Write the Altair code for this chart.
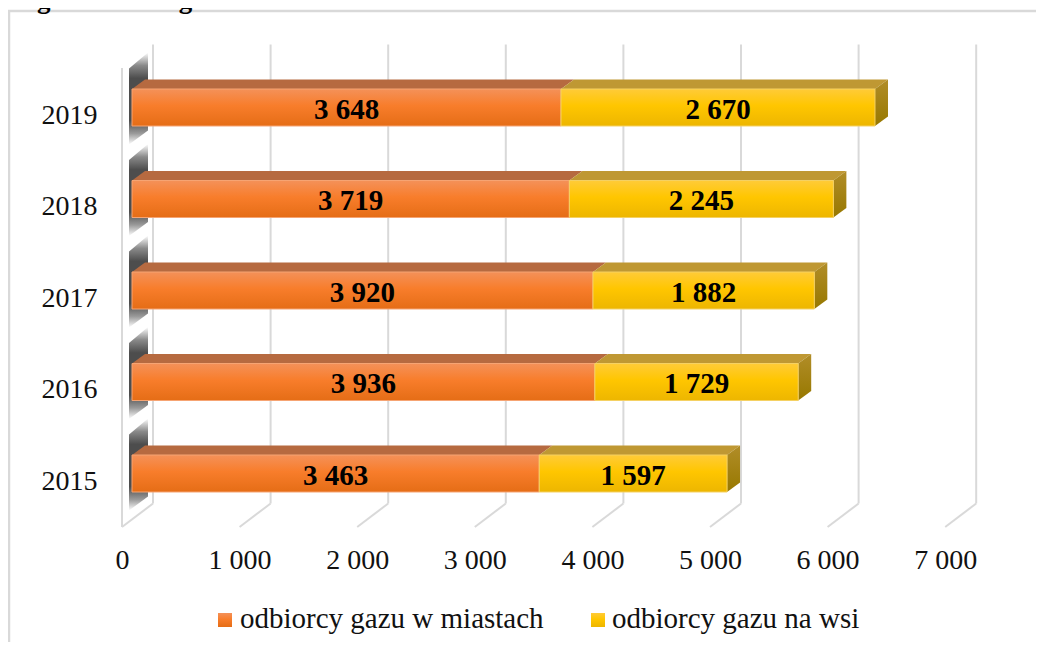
import altair as alt
import pandas as pd

years = [2015, 2016, 2017, 2018, 2019]
miasta = [3463, 3936, 3920, 3719, 3648]
wies = [1597, 1729, 1882, 2245, 2670]
x_ticks = [0, 1000, 2000, 3000, 4000, 5000, 6000, 7000]
legend_labels = ["odbiorcy gazu w miastach", "odbiorcy gazu na wsi"]
title_text = "r z gazu ziemnego w latach 2015-2019"

FONT = "Liberation Serif"
PX_X = 0.1176   # px per value
PX_Y = 91.5     # px per row
ux = lambda px: px / PX_X
uy = lambda px: px / PX_Y

GRID = "#d9d9d9"
WALL_DX, WALL_DY = ux(31), uy(23.5)
WALL_TOP, FLOOR = uy(481 - 68), uy(481 - 527)
BAR_X0, BAR_Y0 = ux(10), uy(7.5)
BAR_DX, BAR_DY = ux(13), uy(9.5)
BAR_H = uy(18.5)


def grad(stops):
    n = [{"offset": o, "color": c} for o, c in stops]
    return {"gradient": "linear", "stops": n, "x1": 0, "x2": 0, "y1": 0, "y2": 1}


ORANGE = grad([(0, "#F49159"), (0.45, "#F87D2B"), (1, "#E56D16")])
YELLOW = grad([(0, "#FFCB38"), (0.45, "#FFC600"), (1, "#EDB600")])
SIDE = grad([(0, "#B18D28"), (1, "#977800")])
SHADOW = grad([(0, "#ffffff"), (0.14, "#8a8a8a"), (0.28, "#4d4d4d"),
               (0.74, "#4d4d4d"), (0.88, "#9a9a9a"), (1, "#ffffff")])

axis_x = alt.Axis(values=x_ticks, labelExpr="replace(format(datum.value, ','), ',', ' ')",
                  domain=False, ticks=False, grid=False, title=None, labelPadding=16,
                  labelFont=FONT, labelFontSize=28, labelColor="#111111", labelFlush=False,
                  labelOverlap=False)
rows = list(range(len(years)))
axis_y = alt.Axis(values=rows, labelExpr="datum.value + 2015", format="d",
                  domain=False, ticks=False, grid=False, title=None, labelPadding=25,
                  labelFont=FONT, labelFontSize=28, labelColor="#111111", labelOverlap=False)

xs = alt.Scale(domain=[0, 7500], nice=False, zero=False)
ys = alt.Scale(domain=[-0.5355, 4.8197], nice=False, zero=False)
X = alt.X("x:Q", scale=xs, axis=axis_x)
X2 = alt.X2("x2:Q")
Y = alt.Y("y:Q", scale=ys, axis=axis_y)
Y2 = alt.Y2("y2:Q")

# ---- tables
front, top, side, shadow, labels = [], [], [], [], []
for r, yr, a, b in zip(rows, years, miasta, wies):
    cy = r + BAR_Y0
    for name, s, e, fill in [("m", 0, a, "o"), ("w", a, a + b, "y")]:
        front.append(dict(x=BAR_X0 + s, x2=BAR_X0 + e, y=cy + BAR_H, y2=cy - BAR_H, s=fill))
        labels.append(dict(x=BAR_X0 + (s + e) / 2, y=cy,
                           t=f"{(e - s) // 1000} {(e - s) % 1000:03d}"))
        for d in [0, 1]:
            top.append(dict(x=BAR_X0 + s + d * BAR_DX, x2=BAR_X0 + e + d * BAR_DX,
                            y=cy + BAR_H + d * BAR_DY, id=f"{yr}{name}", s=fill))
    for d in [0, 1]:
        side.append(dict(x=BAR_X0 + a + b + d * BAR_DX,
                         y=cy + BAR_H + d * BAR_DY, y2=cy - BAR_H + d * BAR_DY, id=yr))
    shadow.append(dict(x=ux(7), y=cy + uy(39), y2=cy - uy(37), id=yr))
    shadow.append(dict(x=ux(26), y=cy + uy(55), y2=cy - uy(23), id=yr))

front, top, side, shadow, labels = map(pd.DataFrame, (front, top, side, shadow, labels))
tick_df = pd.DataFrame({"x": [t + WALL_DX for t in x_ticks], "y": WALL_TOP + WALL_DY, "y2": FLOOR + WALL_DY})
floor_df = pd.DataFrame(
    [dict(x=t + d * WALL_DX, y=FLOOR + d * WALL_DY, id=t) for t in x_ticks for d in (0, 1)]
)

grid_back = alt.Chart(tick_df).mark_rule(color=GRID, strokeWidth=2).encode(x=X, y=Y, y2=Y2)
grid_floor = alt.Chart(floor_df).mark_line(color=GRID, strokeWidth=2, clip=False).encode(x=X, y=Y, detail="id:N")
wall_front = alt.Chart(pd.DataFrame({"x": [0], "y": [WALL_TOP], "y2": [FLOOR]})).mark_rule(
    color=GRID, strokeWidth=2).encode(x=X, y=Y, y2=Y2)

shadow_l = alt.Chart(shadow).mark_area(orient="vertical", fill=SHADOW).encode(x=X, y=Y, y2=Y2, detail="id:N")

top_l = alt.Chart(top).mark_area(orient="horizontal").encode(
    x=X, x2=X2, y=Y, detail="id:N",
    fill=alt.Fill("s:N", scale=alt.Scale(domain=["o", "y"], range=["#B66A40", "#BF9833"]), legend=None))
side_l = alt.Chart(side).mark_area(orient="vertical", fill=SIDE).encode(x=X, y=Y, y2=Y2, detail="id:N")

front_o = alt.Chart(front[front.s == "o"]).mark_rect(fill=ORANGE, stroke="#F6A473", strokeWidth=1).encode(
    x=X, x2=X2, y=Y, y2=Y2)
front_y = alt.Chart(front[front.s == "y"]).mark_rect(fill=YELLOW, stroke="#F5D163", strokeWidth=1).encode(
    x=X, x2=X2, y=Y, y2=Y2)

label_l = alt.Chart(labels).mark_text(font=FONT, fontSize=29, fontWeight="bold", color="#000000", dy=2).encode(
    x=X, y=Y, text="t:N")

# ---- frame, legend, clipped heading (plot origin sits at page 122, 40)
OX, OY = 122, 40


def vx(p):
    return alt.value(p - OX)


def vy(p):
    return alt.value(p - OY)


one = pd.DataFrame({"a": [0]})
frame_left = alt.Chart(one).mark_rule(color=GRID, strokeWidth=2.5).encode(x=vx(9), y=vy(10), y2=vy(644))
frame_top = alt.Chart(one).mark_rule(color=GRID, strokeWidth=2.5).encode(x=vx(8), x2=vx(1036), y=vy(11))
swatch1 = alt.Chart(one).mark_rect(fill=ORANGE).encode(x=vx(218), x2=vx(232), y=vy(613), y2=vy(627))
swatch2 = alt.Chart(one).mark_rect(fill=YELLOW).encode(x=vx(591), x2=vx(605), y=vy(613), y2=vy(627))
leg1 = alt.Chart(one).mark_text(font=FONT, fontSize=29, align="left", baseline="alphabetic", color="#111111").encode(
    x=vx(240), y=vy(628), text=alt.value(legend_labels[0]))
leg2 = alt.Chart(one).mark_text(font=FONT, fontSize=29, align="left", baseline="alphabetic", color="#111111").encode(
    x=vx(612), y=vy(628), text=alt.value(legend_labels[1]))
heading = alt.Chart(one).mark_text(font=FONT, fontSize=27, fontWeight="bold", align="left", baseline="alphabetic",
                                   color="#000000").encode(x=vx(0), y=vy(8), text=alt.value(title_text))

chart = alt.layer(
    grid_back, frame_left, frame_top, heading, grid_floor, wall_front, shadow_l, top_l, side_l,
    front_o, front_y, label_l, swatch1, swatch2, leg1, leg2,
).properties(
    width=882, height=490,
    autosize=alt.AutoSizeParams(type="none"),
    padding={"left": 114, "top": 32, "right": 32, "bottom": 112},
).configure_view(stroke=None)

chart.save("out.html", embed_options={"renderer": "svg", "actions": False})
